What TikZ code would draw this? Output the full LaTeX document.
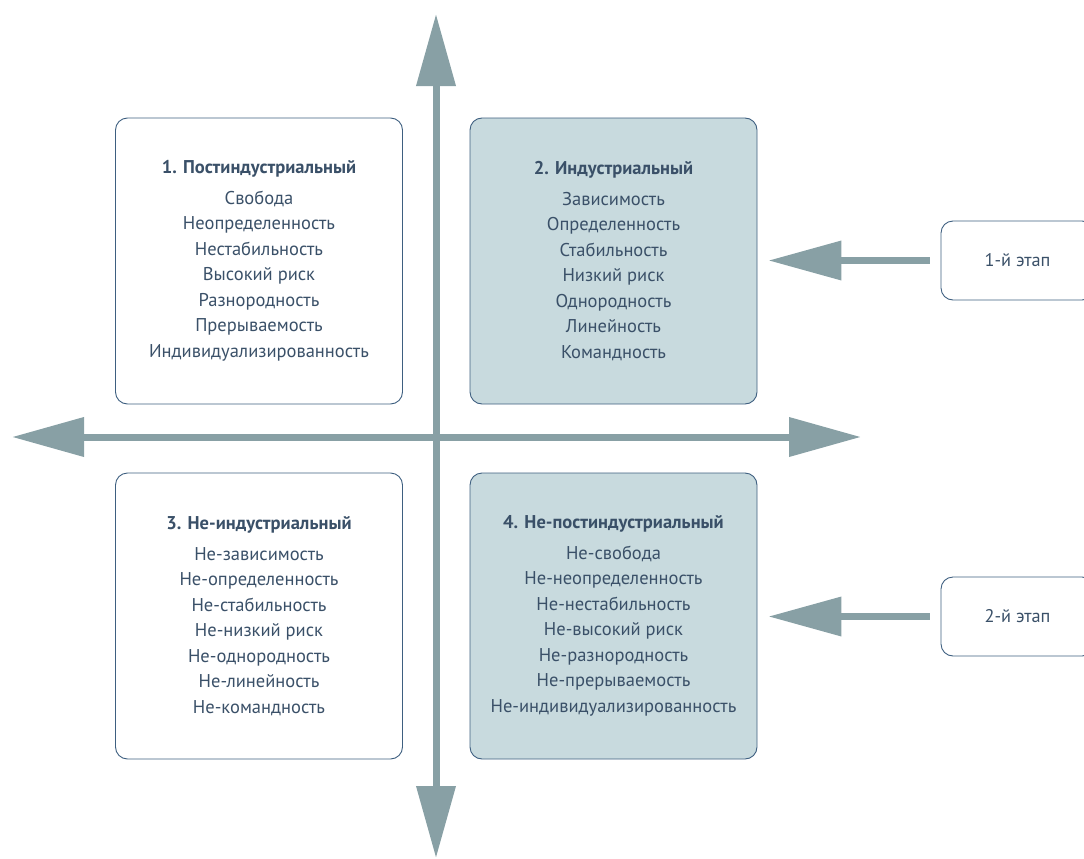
\documentclass[tikz,border=0pt]{standalone}
\usepackage{fontspec}
\setmainfont{PT Sans}
\usetikzlibrary{arrows.meta}
\definecolor{axisc}{HTML}{88A0A5}
\definecolor{fillc}{HTML}{C8DADE}
\definecolor{borderc}{HTML}{3E5F80}
\definecolor{textc}{HTML}{3A5068}
\tikzset{
  quad/.style={draw=borderc, line width=0.9pt, rounded corners=12pt, minimum width=287pt, minimum height=286pt, inner sep=0pt, text=textc, align=center, font=\fontsize{18.5}{25.5}\selectfont},
  shaded/.style={quad, fill=fillc},
  stagebox/.style={draw=borderc, line width=0.9pt, rounded corners=12pt, minimum width=153pt, minimum height=79pt, inner sep=0pt, text=textc, font=\fontsize{18.3}{20}\selectfont},
  axisarrow/.style={draw=axisc, line width=7pt, {Triangle[width=38pt,length=72pt]}-{Triangle[width=38pt,length=72pt]}},
  stagearrow/.style={draw=axisc, line width=7pt, -{Triangle[width=38pt,length=73pt]}},
}
\newcommand{\ttl}[1]{\textbf{#1}\\[5pt]}
\begin{document}
\begin{tikzpicture}[x=1pt,y=-1pt]
\useasboundingbox (0,0) rectangle (1084,859);
\coordinate (vt) at (436,14);
\coordinate (vb) at (436,858);
\coordinate (hl) at (12,437);
\coordinate (hr) at (861,437);
\draw[axisarrow] (vb) -- (vt);
\draw[axisarrow] (hl) -- (hr);
\node[quad] (b1) at (259,261) {\ttl{1. Постиндустриальный}Свобода\\Неопределенность\\Нестабильность\\Высокий риск\\Разнородность\\Прерываемость\\Индивидуализированность};
\node[shaded] (b2) at (613.5,261) {\ttl{2. Индустриальный}Зависимость\\Определенность\\Стабильность\\Низкий риск\\Однородность\\Линейность\\Командность};
\node[quad] (b3) at (259,616) {\ttl{3. Не-индустриальный}Не-зависимость\\Не-определенность\\Не-стабильность\\Не-низкий риск\\Не-однородность\\Не-линейность\\Не-командность};
\node[shaded] (b4) at (613.5,616) {\ttl{4. Не-постиндустриальный}Не-свобода\\Не-неопределенность\\Не-нестабильность\\Не-высокий риск\\Не-разнородность\\Не-прерываемость\\Не-индивидуализированность};
\node[stagebox] (s1) at (1017.5,260.5) {1-й этап};
\node[stagebox] (s2) at (1017.5,616.5) {2-й этап};
\draw[stagearrow, shorten <=11pt, shorten >=11pt] (s1.west) -- (b2.east |- s1.west);
\draw[stagearrow, shorten <=11pt, shorten >=11pt] (s2.west) -- (b4.east |- s2.west);
\end{tikzpicture}
\end{document}
